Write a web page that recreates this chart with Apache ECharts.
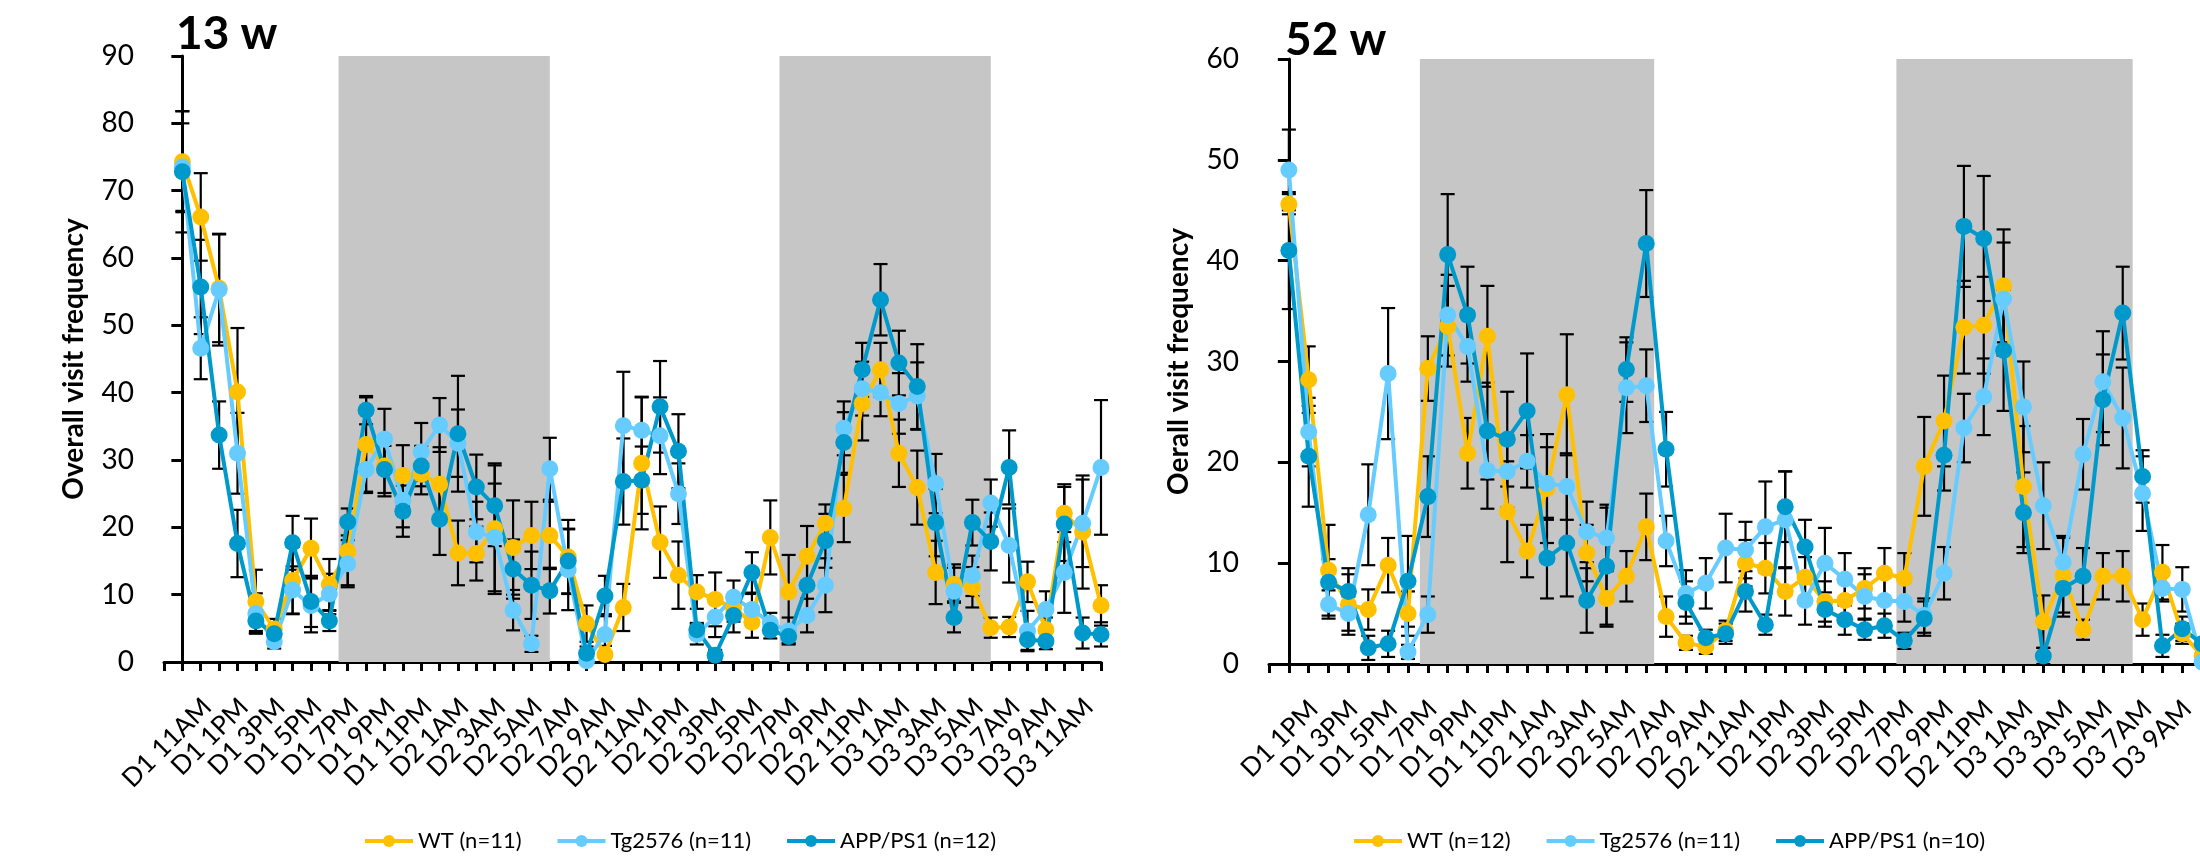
<!DOCTYPE html>
<html>
<head>
<meta charset="utf-8">
<script src="https://cdn.jsdelivr.net/npm/echarts@6/dist/echarts.min.js"></script>
<title>Visit frequency</title>
</head>
<body style="margin: 0; background: #fff">
<div id="container" style="width: 2200px; height: 862px"></div>
<script type="text/javascript">

    // 13 w panel: hourly points starting D1 11AM, labels every 2 h
    const labels13 = ['D1 11AM', 'D1 1PM', 'D1 3PM', 'D1 5PM', 'D1 7PM', 'D1 9PM', 'D1 11PM',
        'D2 1AM', 'D2 3AM', 'D2 5AM', 'D2 7AM', 'D2 9AM', 'D2 11AM', 'D2 1PM', 'D2 3PM', 'D2 5PM',
        'D2 7PM', 'D2 9PM', 'D2 11PM', 'D3 1AM', 'D3 3AM', 'D3 5AM', 'D3 7AM', 'D3 9AM', 'D3 11AM'];
    const dark13 = [[8.5, 20], [32.5, 44]];
    const wt13 = [74.3, 66.1, 55.5, 40.1, 9.0, 4.9, 12.1, 16.9, 11.5, 16.4,
        32.3, 29.1, 27.7, 27.9, 26.4, 16.2, 16.1, 19.8, 17.0, 18.8,
        18.8, 15.6, 5.7, 1.1, 8.1, 29.5, 17.8, 12.9, 10.4, 9.3,
        8.0, 5.9, 18.5, 10.4, 15.7, 20.6, 22.8, 38.4, 43.4, 31.0,
        25.9, 13.3, 11.5, 11.1, 5.1, 5.2, 11.9, 4.8, 22.1, 19.3, 8.4];
    const tg13 = [73.5, 46.6, 55.3, 31.0, 7.2, 3.0, 10.7, 8.4, 10.1, 14.6,
        28.6, 33.1, 24.0, 31.2, 35.2, 32.5, 19.3, 18.5, 7.7, 2.7,
        28.7, 13.7, 0.2, 4.1, 35.1, 34.4, 33.6, 25.0, 4.1, 6.7,
        9.6, 7.8, 5.8, 4.6, 6.9, 11.4, 34.7, 40.6, 40.0, 38.4,
        39.5, 26.5, 10.5, 12.8, 23.6, 17.3, 4.6, 7.8, 13.3, 20.6, 28.9];
    const app13 = [72.8, 55.7, 33.7, 17.6, 6.1, 4.2, 17.7, 9.0, 6.1, 20.8,
        37.4, 28.6, 22.4, 29.1, 21.2, 33.9, 26.0, 23.2, 13.8, 11.4,
        10.6, 15.0, 1.3, 9.8, 26.8, 27.0, 37.9, 31.3, 4.8, 1.0,
        6.9, 13.3, 4.7, 3.8, 11.4, 18.0, 32.6, 43.4, 53.8, 44.4,
        40.9, 20.7, 6.6, 20.7, 17.9, 28.9, 3.3, 3.1, 20.5, 4.3, 4.1];
    const wt13Err = [7.5, 6.5, 8, 9.5, 4.7, 1.5, 5, 4.4, 3.8, 5,
        7, 4.5, 4.5, 3, 5.5, 4.8, 4, 9.7, 7, 5,
        5, 5.5, 2.7, 1.3, 3.5, 9.8, 5.3, 5, 2.5, 4,
        2, 2.3, 5.5, 5.5, 4.5, 2.8, 5, 5.5, 4, 5,
        5.5, 4.7, 2.5, 3, 1.5, 1.5, 3, 1.8, 4.3, 8.4, 3];
    const tg13Err = [6.5, 4.6, 8.3, 6, 3, 1, 3.5, 4, 3, 3.5,
        3.5, 4.5, 4, 4.3, 4, 5, 4.5, 8, 3, 1.2,
        4.6, 6, 1, 3, 8, 5, 5.7, 4.5, 1.5, 3,
        2.5, 2.3, 1.5, 2, 2.5, 4, 4, 4, 3.5, 4.5,
        5, 4.4, 4, 3, 3.5, 5.5, 3, 2.7, 6, 6.5, 10];
    const app13Err = [9, 7, 5, 5, 1.5, 1, 4, 3.8, 1.5, 2,
        2.1, 3.5, 3.8, 3, 5.3, 8.6, 4.8, 6, 4.4, 5,
        3.4, 4.8, 1, 3, 6.4, 5, 6.8, 5.5, 1, 0.8,
        2.5, 3, 1.2, 1, 4, 4, 4.5, 4, 5.3, 4.8,
        6.3, 5, 2.2, 3.4, 4.3, 5.5, 1.5, 1.2, 5.5, 2.3, 1.8];

    // 52 w panel: hourly points starting D1 1PM (cut at the right edge)
    const labels52 = ['D1 1PM', 'D1 3PM', 'D1 5PM', 'D1 7PM', 'D1 9PM', 'D1 11PM',
        'D2 1AM', 'D2 3AM', 'D2 5AM', 'D2 7AM', 'D2 9AM', 'D2 11AM', 'D2 1PM', 'D2 3PM', 'D2 5PM',
        'D2 7PM', 'D2 9PM', 'D2 11PM', 'D3 1AM', 'D3 3AM', 'D3 5AM', 'D3 7AM', 'D3 9AM'];
    const dark52 = [[6.6, 18.4], [30.6, 42.5]];
    const wt52 = [45.6, 28.2, 9.3, 5.9, 5.4, 9.8, 5.0, 29.3, 33.5, 20.9,
        32.5, 15.1, 11.2, 17.4, 26.7, 11.0, 6.5, 8.7, 13.6, 4.7,
        2.1, 1.7, 3.3, 10.0, 9.5, 7.2, 8.6, 6.2, 6.3, 7.5,
        9.0, 8.5, 19.6, 24.1, 33.4, 33.6, 37.5, 17.6, 4.2, 8.8,
        3.4, 8.7, 8.7, 4.4, 9.1, 3.0, 0.8];
    const tg52 = [49.0, 23.0, 5.9, 5.0, 14.8, 28.8, 1.2, 4.9, 34.6, 31.5,
        19.2, 19.1, 20.1, 17.9, 17.6, 13.1, 12.5, 27.4, 27.6, 12.2,
        7.0, 8.0, 11.5, 11.3, 13.6, 14.3, 6.3, 10.0, 8.4, 6.7,
        6.3, 6.2, 4.8, 9.0, 23.4, 26.5, 36.2, 25.5, 15.7, 10.1,
        20.8, 28.0, 24.4, 16.9, 7.5, 7.4, 0.2];
    const app52 = [41.0, 20.6, 8.1, 7.2, 1.6, 2.0, 8.2, 16.6, 40.6, 34.6,
        23.1, 22.3, 25.1, 10.5, 12.0, 6.3, 9.7, 29.2, 41.7, 21.3,
        6.1, 2.6, 3.0, 7.2, 3.9, 15.6, 11.6, 5.4, 4.4, 3.4,
        3.8, 2.3, 4.5, 20.7, 43.4, 42.2, 31.1, 15.0, 0.8, 7.5,
        8.7, 26.2, 34.8, 18.6, 1.8, 3.5, 2.0];
    const wt52Err = [1, 3.3, 4.5, 3, 2, 2.7, 2.2, 3.2, 4, 3.5,
        5, 5, 2.6, 5.4, 6, 2.8, 2.8, 2.5, 3.3, 2,
        0.7, 0.7, 1, 2.3, 2.5, 2.4, 2, 2, 2, 2,
        2.5, 2.5, 4.9, 4.5, 4.6, 4.8, 5.6, 6, 2.6, 3.7,
        1, 2.3, 2.5, 1.6, 2.7, 1, 0.5];
    const tg52Err = [4, 3.4, 1.4, 1.7, 5, 6.5, 0.7, 1.8, 4, 3.5,
        3.8, 3.6, 2.6, 3.6, 3.3, 3, 3.3, 4.5, 3.6, 2.5,
        2.3, 2.5, 3.4, 2.8, 4.5, 4.8, 2.4, 3.5, 2.6, 2.2,
        2.3, 2, 1.7, 2.6, 3.4, 3.8, 5.6, 4.5, 4.3, 2.6,
        3.5, 5, 5, 3.7, 1.3, 2.2, 1];
    const app52Err = [5.8, 5, 2.3, 2.3, 1.2, 1.3, 4.5, 4, 6, 4.8,
        4.8, 4.7, 5.7, 4, 5.3, 3.2, 5.8, 3.2, 5.3, 3.7,
        2.1, 0.8, 1, 2, 1, 3.5, 2.7, 1.7, 1.5, 1,
        1.2, 0.8, 1.7, 3.5, 6, 6.2, 6, 4, 0.8, 2.8,
        2.8, 4.5, 4.6, 2.6, 1.1, 1.2, 0.5];

    const FONT = 'Lato, "Open Sans", sans-serif';
    const YELLOW = '#FFC000', LIGHT = '#66CCFF', DARK = '#0099CC';

    function lineSeries(name, vals, color, idx) {
        return {
            type: 'line', name: name, xAxisIndex: idx, yAxisIndex: idx, z: 3,
            data: vals.map((v, i) => [i, v]),
            symbol: 'circle', symbolSize: 17,
            lineStyle: {color: color, width: 4},
            itemStyle: {color: color}
        };
    }

    function errSeries(vals, errs, idx) {
        return {
            type: 'custom', xAxisIndex: idx, yAxisIndex: idx, z: 2, silent: true,
            data: vals.map((v, i) => [i, Math.max(0, v - errs[i]), v + errs[i]]),
            encode: {x: 0, y: [1, 2]},
            renderItem: function (params, api) {
                let lo = api.coord([api.value(0), api.value(1)]);
                let hi = api.coord([api.value(0), api.value(2)]);
                let w = 7;
                let st = {stroke: '#000', lineWidth: 2.2};
                return {
                    type: 'group', children: [
                        {type: 'line', shape: {x1: lo[0], y1: lo[1], x2: hi[0], y2: hi[1]}, style: st},
                        {type: 'line', shape: {x1: hi[0] - w, y1: hi[1], x2: hi[0] + w, y2: hi[1]}, style: st},
                        {type: 'line', shape: {x1: lo[0] - w, y1: lo[1], x2: lo[0] + w, y2: lo[1]}, style: st}
                    ]
                };
            }
        };
    }

    function shade(periods, top) {
        return {
            silent: true,
            itemStyle: {color: '#C6C6C6'},
            data: periods.map(p => [{xAxis: p[0], yAxis: 0}, {xAxis: p[1], yAxis: top}])
        };
    }

    function xAxis(idx, max, labels) {
        return {
            type: 'value', gridIndex: idx, min: -1, max: max, interval: 1,
            axisLine: {lineStyle: {color: '#000', width: 3}},
            axisTick: {length: 9, lineStyle: {color: '#000', width: 3}},
            splitLine: {show: false},
            axisLabel: {
                rotate: 45, margin: 16, verticalAlign: 'top', padding: [22, 0, 0, 0],
                fontSize: 26, fontFamily: FONT, color: '#000',
                formatter: function (v) {
                    return (v >= 0 && v % 2 === 0 && v / 2 < labels.length) ? labels[v / 2] : '';
                }
            }
        };
    }

    function yAxis(idx, max, name) {
        return {
            type: 'value', gridIndex: idx, min: 0, max: max, interval: 10,
            axisLine: {show: true, lineStyle: {color: '#000', width: 3}},
            axisTick: {show: true, length: 11, lineStyle: {color: '#000', width: 3}},
            splitLine: {show: false},
            axisLabel: {fontSize: 28, fontFamily: FONT, color: '#000', margin: 30},
            name: name, nameLocation: 'middle', nameGap: 76,
            nameTextStyle: {fontSize: 28, fontWeight: 'bold', fontFamily: FONT, color: '#000'}
        };
    }

    let wtS13 = lineSeries('WT (n=11)', wt13, YELLOW, 0);
    wtS13.markArea = shade(dark13, 91.2);
    let wtS52 = lineSeries('WT (n=12)', wt52, YELLOW, 1);
    wtS52.markArea = shade(dark52, 60.8);

    const legendStyle = {top: 825, itemWidth: 48, itemHeight: 15, itemGap: 34,
        lineStyle: {width: 4},
        textStyle: {fontSize: 22, fontFamily: FONT, color: '#000'}};

    let chart = echarts.init(document.getElementById('container'));
    chart.setOption({
        animation: false,
        backgroundColor: '#fff',
        title: [
            {text: '13 w', left: 171, top: 6, textStyle: {fontSize: 46, fontWeight: 'bold', fontFamily: FONT, color: '#000'}},
            {text: '52 w', left: 1280, top: 12, textStyle: {fontSize: 46, fontWeight: 'bold', fontFamily: FONT, color: '#000'}}
        ],
        legend: [
            Object.assign({data: ['WT (n=11)', 'Tg2576 (n=11)', 'APP/PS1 (n=12)'], left: 358}, legendStyle),
            Object.assign({data: ['WT (n=12)', 'Tg2576 (n=11)', 'APP/PS1 (n=10)'], left: 1347}, legendStyle)
        ],
        grid: [
            {left: 164, top: 56, width: 937, height: 606, outerBoundsMode: 'none'},
            {left: 1269, top: 59, width: 953, height: 605, outerBoundsMode: 'none'}
        ],
        xAxis: [xAxis(0, 50, labels13), xAxis(1, 47, labels52)],
        yAxis: [yAxis(0, 90, 'Overall visit frequency'), yAxis(1, 60, 'Oerall visit frequency')],
        series: [
            errSeries(wt13, wt13Err, 0), errSeries(tg13, tg13Err, 0), errSeries(app13, app13Err, 0),
            wtS13,
            lineSeries('Tg2576 (n=11)', tg13, LIGHT, 0),
            lineSeries('APP/PS1 (n=12)', app13, DARK, 0),
            errSeries(wt52, wt52Err, 1), errSeries(tg52, tg52Err, 1), errSeries(app52, app52Err, 1),
            wtS52,
            lineSeries('Tg2576 (n=11)', tg52, LIGHT, 1),
            lineSeries('APP/PS1 (n=10)', app52, DARK, 1)
        ]
    });

</script>
</body>
</html>
